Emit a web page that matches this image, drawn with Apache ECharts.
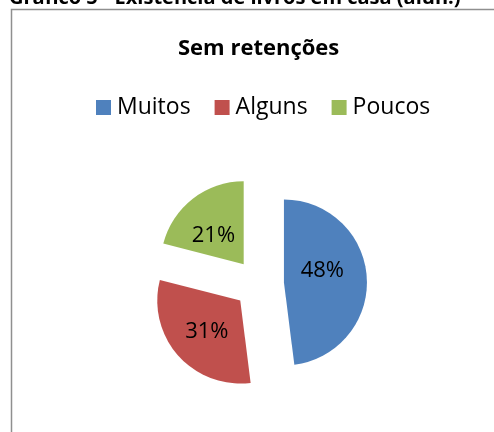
<!DOCTYPE html>
<html>
<head>
<meta charset="utf-8">
<script src="https://cdn.jsdelivr.net/npm/echarts@6/dist/echarts.min.js"></script>
<style>
  html, body { margin: 0; padding: 0; background: #fff; }
  #chart { width: 494px; height: 432px; }
</style>
</head>
<body>
<div id="chart"></div>
<script>
// data
var categories = ['Muitos', 'Alguns', 'Poucos'];
var values = [48, 31, 21];
var colors = ['#4F81BD', '#C0504D', '#9BBB59'];
var chartTitle = 'Sem retenções';
var pageCaption = 'Gráfico 5 - Existência de livros em casa (alun.)';

// nudge the inside labels a bit, like the original layout
var labelOffsets = [[-6, -9], [0, 2], [-3, 7]];

var myChart = echarts.init(document.getElementById('chart'));

var pieData = categories.map(function (name, i) {
  return {
    name: name,
    value: values[i],
    selected: true,
    itemStyle: { color: colors[i] }
  };
});

var option = {
  animation: false,
  textStyle: { fontFamily: 'Open Sans' },
  title: {
    text: chartTitle,
    left: 178,
    top: 38,
    padding: 0,
    textStyle: { fontFamily: 'Open Sans', fontSize: 22, fontWeight: 'bold', color: '#000' }
  },
  legend: {
    data: categories,
    top: 96,
    left: 96,
    padding: 0,
    itemWidth: 15,
    itemHeight: 15,
    itemGap: 24,
    icon: 'rect',
    textStyle: { fontFamily: 'Open Sans', fontSize: 23, color: '#000', padding: [0, 0, 0, 1] },
    selectedMode: false
  },
  graphic: [
    {
      type: 'rect',
      shape: { x: 11.5, y: 9.5, width: 600, height: 600 },
      style: { fill: 'none', stroke: '#8f8f8f', lineWidth: 1.5 },
      silent: true
    },
    {
      type: 'text',
      x: 9,
      y: -2,
      style: { text: pageCaption, font: 'bold 20px "Open Sans"', fill: '#000', verticalAlign: 'middle' },
      silent: true
    }
  ],
  series: [{
    type: 'pie',
    center: [259, 284],
    radius: 83,
    startAngle: 90,
    clockwise: true,
    selectedMode: 'multiple',
    selectedOffset: 25,
    data: pieData,
    label: {
      position: 'inside',
      formatter: '{d}%',
      fontFamily: 'Open Sans',
      fontSize: 22,
      color: '#000'
    },
    labelLayout: function (params) {
      var o = labelOffsets[params.dataIndex];
      return { dx: o[0], dy: o[1] };
    },
    labelLine: { show: false },
    emphasis: { disabled: true }
  }]
};

myChart.setOption(option);
</script>
</body>
</html>
